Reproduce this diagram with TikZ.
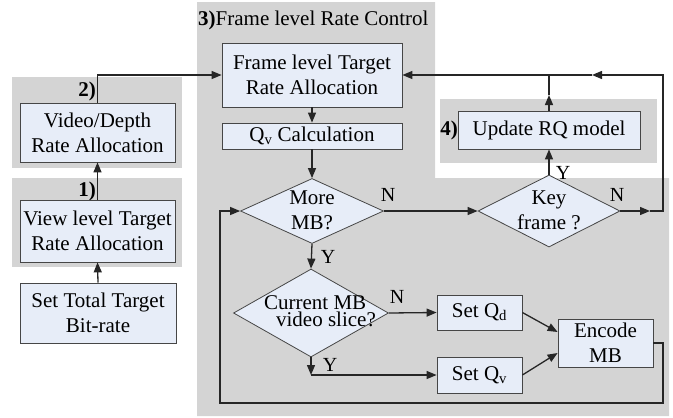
\documentclass[tikz,border=0pt]{standalone}
\usepackage{fontspec}
\setmainfont{Liberation Serif}
\usetikzlibrary{shapes.geometric,arrows.meta}
\definecolor{bggray}{RGB}{212,212,212}
\definecolor{boxfill}{RGB}{231,237,248}
\definecolor{boxline}{RGB}{70,70,70}
\begin{document}
\begin{tikzpicture}[x=1pt,y=-1pt,
  box/.style={draw=boxline,line width=0.8pt,fill=boxfill,inner sep=0pt,align=center,font=\fontsize{21}{25}\selectfont},
  dia/.style={shape=diamond,draw=boxline,line width=0.8pt,fill=boxfill,inner sep=0pt},
  dtext/.style={inner sep=0pt,align=center,font=\fontsize{21}{25}\selectfont},
  lbl/.style={inner sep=0pt,font=\fontsize{20}{24}\selectfont},
  reg/.style={inner sep=0pt,font=\fontsize{21}{25}\selectfont},
  conn/.style={line width=1.3pt,draw=black!85},
  arr/.style={conn,-{Triangle[length=10pt,width=8pt]}}]
\useasboundingbox (0,0) rectangle (673,418);
% backgrounds
\fill[bggray] (197,2) -- (435,2) -- (435,178) -- (669,178) -- (669,416) -- (197,416) -- cycle;
\fill[bggray] (440,99) rectangle (657,163);
\fill[bggray] (12,77) rectangle (182,168);
\fill[bggray] (12,178) rectangle (182,267);
% region labels
\node[reg,anchor=west] (r3) at (198,20) {\textbf{3)}Frame level Rate Control};
\node[reg,anchor=east] (r2) at (96,91) {\textbf{2)}};
\node[reg,anchor=east] (r1) at (96,191) {\textbf{1)}};
\node[reg,anchor=east] (r4) at (458,130) {\textbf{4)}};
% left column
\node[box,minimum width=156pt,minimum height=60pt] (settotal) at (98,313) {Set Total Target\\Bit-rate};
\node[box,minimum width=155pt,minimum height=62pt] (view) at (97.5,231) {View level Target\\Rate Allocation};
\node[box,minimum width=155pt,minimum height=59pt] (video) at (97.5,132.5) {Video/Depth\\Rate Allocation};
% frame level
\node[box,minimum width=180pt,minimum height=64pt] (frame) at (312,75) {Frame level Target\\Rate Allocation};
\node[box,minimum width=180pt,minimum height=26pt] (qv) at (312,136) {Q\textsubscript{v} Calculation};
\node[dia,minimum width=143pt,minimum height=65pt] (more) at (312,211) {};
\node[dtext] (moret) at (312,210) {More\\MB?};
\node[dia,minimum width=142pt,minimum height=72pt] (key) at (549,211) {};
\node[dtext] (keyt) at (549,210) {Key\\frame ?};
\node[box,minimum width=182pt,minimum height=38pt] (update) at (549,130) {Update RQ model};
\node[dia,minimum width=155pt,minimum height=88pt] (cur) at (311,313) {};
\node[dtext,align=left,font=\fontsize{21}{17}\selectfont] (curt) at (320,311) {Current MB\\\hspace{12pt}video slice?};
\node[box,minimum width=85pt,minimum height=35pt] (setqd) at (479.5,312.5) {Set Q\textsubscript{d}};
\node[box,minimum width=85pt,minimum height=36pt] (setqv) at (479.5,375) {Set Q\textsubscript{v}};
\node[box,minimum width=95pt,minimum height=48pt] (encode) at (605.5,343) {Encode\\MB};
% Y/N labels
\node[lbl] (n1) at (388,195) {N};
\node[lbl] (n2) at (617,195) {N};
\node[lbl] (n3) at (397,297) {N};
\node[lbl] (y1) at (328,257) {Y};
\node[lbl] (y2) at (563,173) {Y};
\node[lbl] (y3) at (330,365) {Y};
% coordinates
\coordinate (kA) at (650,211);
\coordinate (kD) at (592,75);
\coordinate (uA) at (549,95);
\coordinate (uB) at (549,75);
\coordinate (cA) at (311,375);
% connectors
\draw[arr] (settotal.north) -- (view.south);
\draw[arr] (view.north) -- (video.south);
\draw[arr] (video.north) |- (frame.west);
\draw[arr] (frame.south) -- (qv.north);
\draw[arr] (qv.south) -- (more.north);
\draw[arr] (more.east) -- (key.west);
\draw[arr] (key.east) -- (kA);
\draw[arr] (kA) -- (663,211) -- (663,75) -- (kD);
\draw[arr] (kD) -- (frame.east);
\draw[arr] (key.north) -- (update.south);
\draw[arr] (update.north) -- (uA);
\draw[conn] (uA) -- (uB);
\draw[arr] (more.south) -- (cur.north);
\draw[arr] (cur.east) -- (setqd.west);
\draw[arr] (cur.south) -- (cA);
\draw[arr] (cA) -- (setqv.west);
\draw[arr] (setqd.east) -- ([yshift=11pt]encode.west);
\draw[arr] (setqv.east) -- ([yshift=-10pt]encode.west);
\draw[arr] (encode.east) -- (663,343) -- (663,403) -- (220,403) -- (220,211) -- (more.west);
\end{tikzpicture}
\end{document}
